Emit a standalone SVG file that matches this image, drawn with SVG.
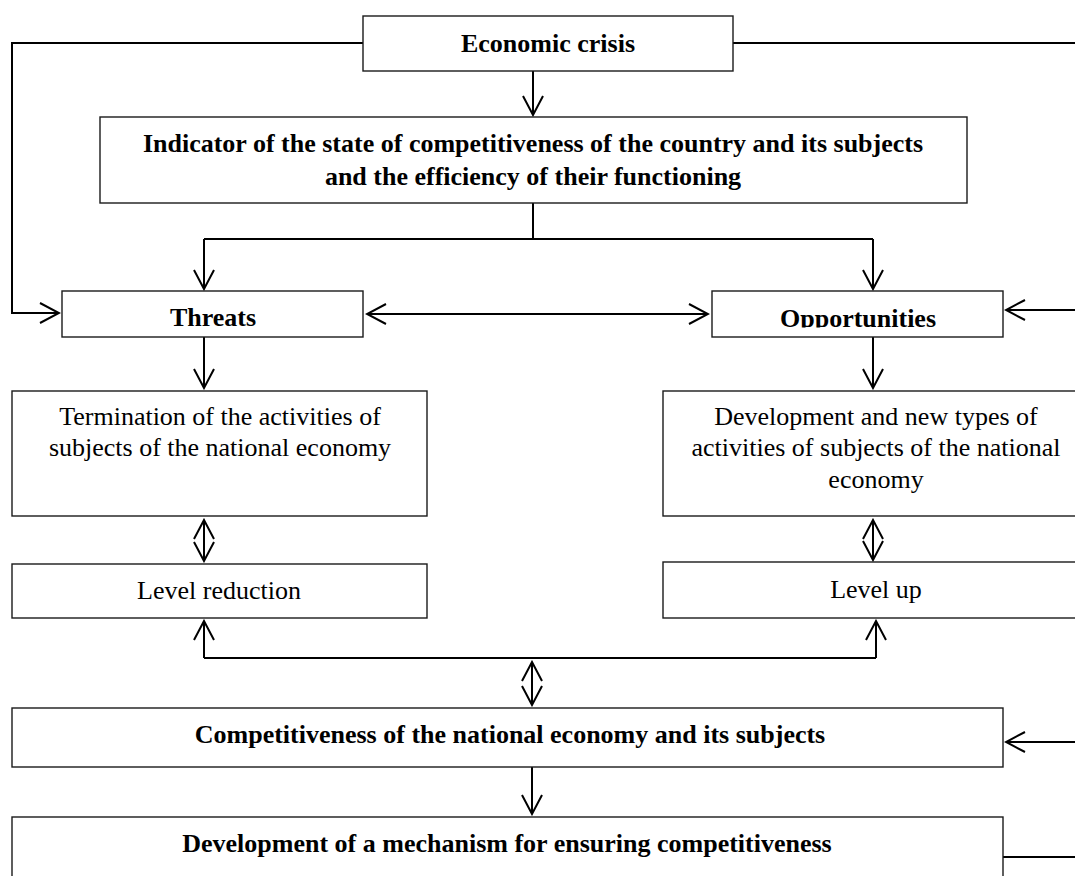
<svg xmlns="http://www.w3.org/2000/svg" width="1075" height="876" viewBox="0 0 1075 876">
<style>
.box{fill:#fff;stroke:#1a1a1a;stroke-width:1.4}
.t{font-family:"Liberation Serif","Times New Roman",serif;font-size:26px;fill:#000;text-anchor:middle}
.b{font-weight:bold}
.c{fill:none;stroke:#000;stroke-width:2}
.a{marker-end:url(#ah)}
.d{marker-start:url(#ah);marker-end:url(#ah)}
</style>
<defs>
<marker id="ah" viewBox="-20 -12 22 24" refX="0" refY="0" markerWidth="22" markerHeight="24" markerUnits="userSpaceOnUse" orient="auto-start-reverse">
<path d="M-19 -10 L0 0 L-19 10" fill="none" stroke="#000" stroke-width="2"/>
</marker>
<clipPath id="oppclip"><rect x="712" y="291" width="291" height="36.5"/></clipPath>
</defs>
<rect width="1075" height="876" fill="#fff"/>
<g id="connectors">
<path class="c" d="M363 43 H12 V313 H59"/>
<path class="c a" d="M12 313 H59"/>
<path class="c" d="M733 43 H1075"/>
<path class="c a" d="M533 71 V115"/>
<path class="c" d="M533 203 V239 M204 239 H873"/>
<path class="c a" d="M204 239 V289"/>
<path class="c a" d="M873 239 V289"/>
<path class="c d" d="M367 314 H708"/>
<path class="c a" d="M1075 310 H1006"/>
<path class="c a" d="M204 337 V388"/>
<path class="c a" d="M873 337 V388"/>
<path class="c d" d="M204 520 V561"/>
<path class="c d" d="M873 520 V560"/>
<path class="c" d="M204 658 H876"/>
<path class="c a" d="M204 658 V621"/>
<path class="c a" d="M876 658 V621"/>
<path class="c d" d="M532 662 V705"/>
<path class="c a" d="M1075 742 H1006"/>
<path class="c a" d="M532 767 V814"/>
<path class="c" d="M1003 857 H1075"/>
</g>
<g id="economic-crisis">
<rect class="box" x="363" y="16" width="370" height="55"/>
<text class="t b" x="548" y="52">Economic crisis</text>
</g>
<g id="indicator">
<rect class="box" x="100" y="117" width="867" height="86"/>
<text class="t b" x="533" y="152">Indicator of the state of competitiveness of the country and its subjects</text>
<text class="t b" x="533" y="185">and the efficiency of their functioning</text>
</g>
<g id="threats">
<rect class="box" x="62" y="291" width="301" height="46"/>
<text class="t b" x="213" y="326">Threats</text>
</g>
<g id="opportunities">
<rect class="box" x="712" y="291" width="291" height="46"/>
<text class="t b" x="858" y="327" clip-path="url(#oppclip)">Opportunities</text>
</g>
<g id="termination">
<rect class="box" x="12" y="391" width="415" height="125"/>
<text class="t" x="220" y="425">Termination of the activities of</text>
<text class="t" x="220" y="456">subjects of the national economy</text>
</g>
<g id="development-activities">
<rect class="box" x="663" y="391" width="420" height="125"/>
<text class="t" x="876" y="425">Development and new types of</text>
<text class="t" x="876" y="456">activities of subjects of the national</text>
<text class="t" x="876" y="488">economy</text>
</g>
<g id="level-reduction">
<rect class="box" x="12" y="564" width="415" height="54"/>
<text class="t" x="219" y="599">Level reduction</text>
</g>
<g id="level-up">
<rect class="box" x="663" y="562" width="420" height="56"/>
<text class="t" x="876" y="598">Level up</text>
</g>
<g id="competitiveness">
<rect class="box" x="12" y="708" width="991" height="59"/>
<text class="t b" x="510" y="743">Competitiveness of the national economy and its subjects</text>
</g>
<g id="mechanism">
<rect class="box" x="12" y="817" width="991" height="70"/>
<text class="t b" x="507" y="852">Development of a mechanism for ensuring competitiveness</text>
</g>
</svg>
